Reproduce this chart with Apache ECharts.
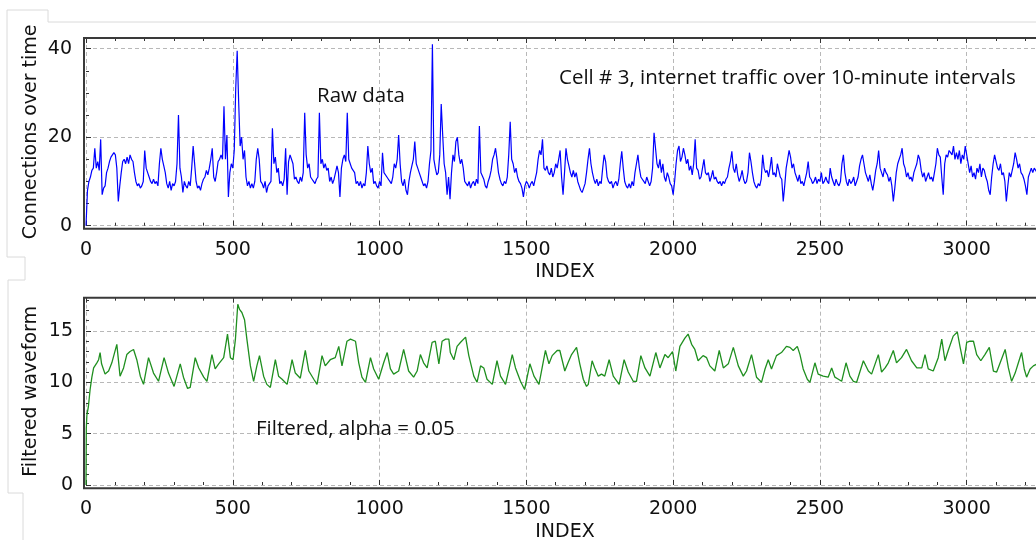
<!DOCTYPE html>
<html><head><meta charset="utf-8">
<script src="https://cdn.jsdelivr.net/npm/echarts@6/dist/echarts.min.js"></script>
<style>html,body{margin:0;padding:0;background:#fff}#c{width:1036px;height:540px}</style>
</head><body><div id="c"></div>
<script>
// ---------- DATA ----------
const rawStep = 5; // index spacing of rawValues
const rawValues = [
0,8,10,11,12.5,13,17.5,13,14.5,12.5,19.5,7,8.5,9,12,13,14.5,15.5,16,16.5,
16,13,5.5,9,12,14.5,15,14,15.5,14,16,15,14.5,12,10,9,9.5,8.5,9,10,
17,13,12,11,10,9.5,10.5,9.5,10,9,14,17.5,15,13.5,12,9.5,8.5,10,8,9.5,
9,10,14,25,13,11,7.5,10,9,8.5,10,9,13,18,14,10,8.5,9,8,9.5,
10.5,11,12.5,11.5,13,15,17.5,11,10,12,14.5,15,16,15,27,15,20.5,6.5,12,14,
13,17,31,39.5,28,18,20,15,17,11,9,10,8.5,9.5,8.5,10,15,17.5,15,10,
9.5,8.5,10,7.5,9,9.5,10,22,14,15.5,12,13,9.5,10,9,10.5,17.5,7,14.5,16,
15,14,10.5,11,10,9.5,11,10,12,25.5,16,13,14,11,10.5,10,9.5,10.5,11,25.5,
14,15,13,14,12.5,13,10,11,9.5,10.5,12,13.5,12,6.5,13,15,16,14.5,25.5,15,
14,13,12.5,12,9.5,10,9,10,8.5,9.5,9,12,18,14,12,13,9.5,10,9,8.5,
10,9,16.5,12,12,11,10.5,10,9.5,11,14,13,15,20.5,14,10,9,10.5,8,7,
10,12,13.5,15,19,14,13,12,11,10,9,9.5,8.5,10,14,17,41,15,13,11.5,
12,16,27.5,20.5,14,12,7,11,6,12,16,14.5,19,20,16,14,15,13,10,9.5,
9,10,8.5,9.5,10,9,10.5,9.5,22.5,12,12,10.5,9,8.5,10,11,12.5,15,16,17.5,
15,12,10.5,9.5,9,10,9.5,11,16,23.5,15,14,12,13,11,10,9.5,8.5,6.5,9,
10,9.5,8.5,9.5,10,9,10.5,12,15,17,16,19.5,13,12.5,13.5,12,11.5,13,11,12,
14,13,15,17,11,7,12,17.5,15,13.5,12,11,12.5,11,12,10,9,8,7.5,8.5,
9.5,12,15,17.5,14,12,10.5,9.5,10.5,9,10,9.5,13,16,14.5,11,10,9.5,10,8.5,
9.5,10,9,10.5,14,16.8,13,10,9,8.5,9.5,8.5,10,9,12,14,16,13,11,10.5,
10,9.5,11,10,9,10,13,21,17.5,14,13,15,12,14,11,10,12,11,9.5,9,
7,10,14,17,18,14.5,15.5,17.5,16,14,15,12.5,13.5,11.5,14,19.5,13,12.5,10.5,11,
13,15,12,11.5,12,10,11,12.5,10.5,11,10,9.5,10,9,10,9.5,10.5,11,13,14.5,
16.8,13,12,14,11.5,10,11,12.5,10.5,9.5,10,12,16.5,14.5,12,10,9,8.5,9.5,9,
10.5,16,13,12,12.5,11,13,15.5,11.5,12,11,14,12.5,11,10.5,5.5,9,13,15,17,
15.5,13,14,12,11,10,11.5,9.5,10,9,10.5,12,14.5,11,10.5,9.5,10,11,9.5,10.5,
10,12,9.5,10,11,10,9.5,13,11,10,9,10.5,9.5,9,10,14,16,12,10,9,
10.5,9.5,10,11,9,10,11,13.5,15,16,14,12,11,10,11.5,9.5,8,10,12.5,14,
17,13,12,11,13,12,11.5,10,11,9,5.5,8.5,12,14,15,16,17.5,14,13,11,
12,10.5,11,10,12,13,14,16,15,12.5,11,12,10,11,12,10.5,11,10,12,14,
17.5,16,15.5,11,7,14,16,15.5,17,16.5,16,18,15,16.5,15,17,14,16,15,18,
18.3,14,12,13.5,11,12,10.5,13,12,14,11,13,12.5,11,10,8,7,11,14,16,
14.5,13,12.5,14,11.5,12,10,5.5,9,12,11,12.5,14,16.5,15,13,14,12,11.5,10.5,
9,7,11,12,13,12,13,12.5,12
];
// [index, filtered value]
const filteredPoints = [
[0,0],[1,5.5],[3,6.8],[8,7.6],[14,9.3],[20,10.5],[26,11.4],[37,11.9],[43,12.2],[48,12.9],
[53,11.8],[65,10.8],[77,11.1],[88,11.9],[105,13.7],[116,10.6],[128,11.4],[139,12.7],[150,13.0],[162,13.2],
[173,12.2],[185,10.6],[196,9.8],[213,12.4],[230,10.9],[247,10.1],[266,12.4],[281,10.9],[300,9.6],[321,11.8],
[332,10.5],[346,9.4],[355,9.5],[372,12.4],[384,11.4],[401,10.5],[412,10.1],[429,12.7],[440,11.3],[452,11.8],
[469,12.4],[482,14.7],[492,12.4],[501,12.2],[509,14.2],[517,17.6],[523,17.1],[531,16.8],[540,16.1],[548,14.2],
[560,11.6],[571,10.1],[582,11.6],[591,12.6],[605,10.6],[616,9.8],[628,9.5],[645,12.2],[656,10.6],[668,10.3],
[685,9.8],[696,11.3],[702,12.2],[713,10.9],[730,10.4],[747,13.1],[759,11.1],[776,10.3],[787,9.8],[804,12.6],
[815,11.6],[832,12.2],[849,12.4],[861,13.5],[872,11.6],[889,14.0],[901,14.2],[918,14.0],[929,11.9],[940,10.5],
[952,10.0],[969,12.4],[980,11.3],[997,10.3],[1014,11.9],[1026,12.9],[1037,11.3],[1048,10.8],[1065,11.1],[1082,13.2],
[1099,11.1],[1116,10.5],[1128,11.1],[1139,12.7],[1150,11.9],[1162,11.4],[1179,13.9],[1190,14.0],[1202,11.8],[1213,14.0],
[1225,14.2],[1236,14.2],[1241,12.9],[1253,12.2],[1264,13.5],[1276,13.9],[1293,14.4],[1304,12.6],[1321,10.6],[1332,10.0],
[1344,11.6],[1355,11.4],[1366,10.3],[1384,9.8],[1400,12.1],[1412,10.6],[1429,9.8],[1452,12.7],[1463,11.4],[1480,10.1],
[1494,9.3],[1512,11.8],[1526,10.6],[1543,9.8],[1565,13.1],[1577,11.8],[1588,12.6],[1605,13.1],[1614,13.1],[1631,11.1],
[1642,11.9],[1654,12.7],[1671,13.4],[1682,11.8],[1694,10.3],[1705,9.6],[1711,9.8],[1724,12.1],[1733,11.4],[1745,10.6],
[1756,10.8],[1767,10.6],[1782,12.2],[1796,10.6],[1816,9.8],[1833,12.2],[1847,11.0],[1864,10.1],[1875,10.1],[1890,12.6],
[1904,11.4],[1921,10.6],[1941,12.9],[1955,11.4],[1972,12.7],[1983,12.4],[1998,13.0],[2009,11.1],[2023,13.5],[2040,14.3],
[2051,14.7],[2063,13.7],[2074,13.2],[2085,12.1],[2102,12.6],[2114,12.4],[2125,11.6],[2142,11.1],[2157,13.1],[2171,11.4],
[2188,11.8],[2205,13.4],[2222,11.6],[2239,10.6],[2250,11.1],[2267,12.7],[2284,10.5],[2301,10.0],[2313,11.3],[2324,12.2],
[2335,11.3],[2352,12.6],[2369,12.9],[2386,13.5],[2398,13.4],[2409,13.1],[2423,13.5],[2432,12.7],[2443,11.3],[2457,10.3],
[2466,10.0],[2483,11.9],[2494,10.8],[2511,10.6],[2528,10.5],[2540,11.4],[2551,10.5],[2563,10.3],[2574,10.1],[2589,11.9],
[2602,10.6],[2614,10.1],[2625,10.0],[2648,12.1],[2665,11.1],[2676,10.8],[2699,12.7],[2710,11.0],[2722,11.4],[2733,11.9],
[2750,13.1],[2761,11.9],[2778,12.4],[2795,13.2],[2812,12.1],[2830,11.4],[2847,11.4],[2858,12.7],[2869,11.3],[2886,11.1],
[2903,12.4],[2915,14.2],[2926,12.1],[2937,13.1],[2954,14.5],[2968,14.9],[2977,13.5],[2989,11.8],[3000,13.9],[3011,14.0],
[3023,14.0],[3034,12.7],[3048,12.1],[3062,12.7],[3077,13.4],[3091,11.1],[3102,11.0],[3114,11.9],[3131,13.2],[3142,11.4],
[3153,10.1],[3165,10.9],[3176,11.9],[3187,12.9],[3196,11.3],[3204,10.5],[3216,11.3],[3227,11.6],[3240,11.8]
];
const xTickInterval = 500;
const topYTickInterval = 20;
const bottomYTickInterval = 5;
const axisNames = { topY: 'Connections over time', bottomY: 'Filtered waveform', x: 'INDEX' };
const notes = { raw: 'Raw data', title: 'Cell # 3, internet traffic over 10-minute intervals', filt: 'Filtered, alpha = 0.05' };

// ---------- LAYOUT ----------
const X0 = 86, XMAX = 3500, XPX = 0.29357;
const gridW = XMAX * XPX;
const G1 = { top: 38, h: 187.7, ymax: 42.41 };
const G2 = { top: 297.7, h: 187.3, ymax: 18.24 };
const AX = '#333';
const FONT = 'DejaVu Sans';
const gridLine = { show: true, lineStyle: { type: [4, 3], color: '#b8b8b8', width: 1 } };
const plainNum = v => String(v);

function xAxisPair(g) {
  return [
    { type: 'value', gridIndex: g, min: 0, max: XMAX, interval: xTickInterval, position: 'bottom', offset: 3,
      axisLine: { show: false },
      axisTick: { inside: true, length: 5, lineStyle: { color: AX, width: 1 } },
      minorTick: { show: true, splitNumber: 5, length: 3, lineStyle: { color: AX, width: 1 } },
      axisLabel: { fontFamily: FONT, fontSize: 19, color: '#111', margin: 12, showMaxLabel: false, formatter: plainNum },
      splitLine: gridLine },
    { type: 'value', gridIndex: g, min: 0, max: XMAX, interval: xTickInterval, position: 'top', offset: 0,
      axisLine: { show: false },
      axisTick: { inside: true, length: 5, lineStyle: { color: AX, width: 1 } },
      minorTick: { show: true, splitNumber: 5, length: 3, lineStyle: { color: AX, width: 1 } },
      axisLabel: { show: false }, splitLine: { show: false } }
  ];
}
function yAxis(g, max, interval, minorSplit, name, margin) {
  return { type: 'value', gridIndex: g, min: 0, max: max, interval: interval, offset: 2,
    name: name, nameLocation: 'middle', nameGap: 43.5, nameMoveOverlap: false,
    nameTextStyle: { fontFamily: FONT, fontSize: 19, color: '#111' },
    axisLine: { show: false },
    axisTick: { inside: true, length: 5, lineStyle: { color: AX, width: 1 } },
    minorTick: { show: true, splitNumber: minorSplit, length: 3, lineStyle: { color: AX, width: 1 } },
    axisLabel: { fontFamily: FONT, fontSize: 19, color: '#111', margin: margin, align: 'right', verticalAlign: 'middle',
      showMaxLabel: false, formatter: plainNum },
    splitLine: gridLine };
}

const chart = echarts.init(document.getElementById('c'), null, { renderer: 'canvas' });
const faint = { stroke: '#dadada', lineWidth: 1, fill: null };
const noteFont = '20.5px "Open Sans"';
chart.setOption({
  animation: false,
  backgroundColor: '#fff',
  grid: [
    { left: X0, top: G1.top, width: gridW, height: G1.h, outerBoundsMode: 'none', containLabel: false },
    { left: X0, top: G2.top, width: gridW, height: G2.h, outerBoundsMode: 'none', containLabel: false }
  ],
  xAxis: [...xAxisPair(0), ...xAxisPair(1)],
  yAxis: [
    yAxis(0, G1.ymax, topYTickInterval, 4, axisNames.topY, 12),
    yAxis(1, G2.ymax, bottomYTickInterval, 5, axisNames.bottomY, 11)
  ],
  series: [
    { type: 'line', xAxisIndex: 0, yAxisIndex: 0, showSymbol: false, symbol: 'none',
      data: rawValues.map((v, k) => [k * rawStep, v]),
      lineStyle: { color: '#0000ff', width: 1.2 }, z: 3 },
    { type: 'line', xAxisIndex: 2, yAxisIndex: 1, showSymbol: false, symbol: 'none',
      data: filteredPoints,
      lineStyle: { color: '#1f8f1f', width: 1.3 }, z: 3 }
  ],
  graphic: [
    { type: 'polyline', shape: { points: [[7, 257], [7, 10], [48, 10], [48, 22], [1036, 22]] }, style: faint, silent: true },
    { type: 'polyline', shape: { points: [[7, 257], [25, 257], [25, 280], [8, 280], [8, 493], [23, 493], [23, 540]] }, style: faint, silent: true },
    { type: 'rect', shape: { x: X0 - 2, y: G1.top, width: 1100, height: G1.h + 3 }, style: { fill: null, stroke: '#3a3a3a', lineWidth: 2 }, z: 10, silent: true },
    { type: 'rect', shape: { x: X0 - 2, y: G2.top, width: 1100, height: G2.h + 3.3 }, style: { fill: null, stroke: '#3a3a3a', lineWidth: 2 }, z: 10, silent: true },
    { type: 'text', x: 317, y: 96, style: { text: notes.raw, font: noteFont, fill: '#111', verticalAlign: 'middle' }, z: 11 },
    { type: 'text', x: 559, y: 78, style: { text: notes.title, font: noteFont, fill: '#111', verticalAlign: 'middle' }, z: 11 },
    { type: 'text', x: 256, y: 429, style: { text: notes.filt, font: noteFont, fill: '#111', verticalAlign: 'middle' }, z: 11 },
    { type: 'text', x: 565, y: 272, style: { text: axisNames.x, font: '19px "DejaVu Sans"', fill: '#111', align: 'center', verticalAlign: 'middle' }, z: 11 },
    { type: 'text', x: 565, y: 532, style: { text: axisNames.x, font: '19px "DejaVu Sans"', fill: '#111', align: 'center', verticalAlign: 'middle' }, z: 11 }
  ]
});
</script></body></html>
